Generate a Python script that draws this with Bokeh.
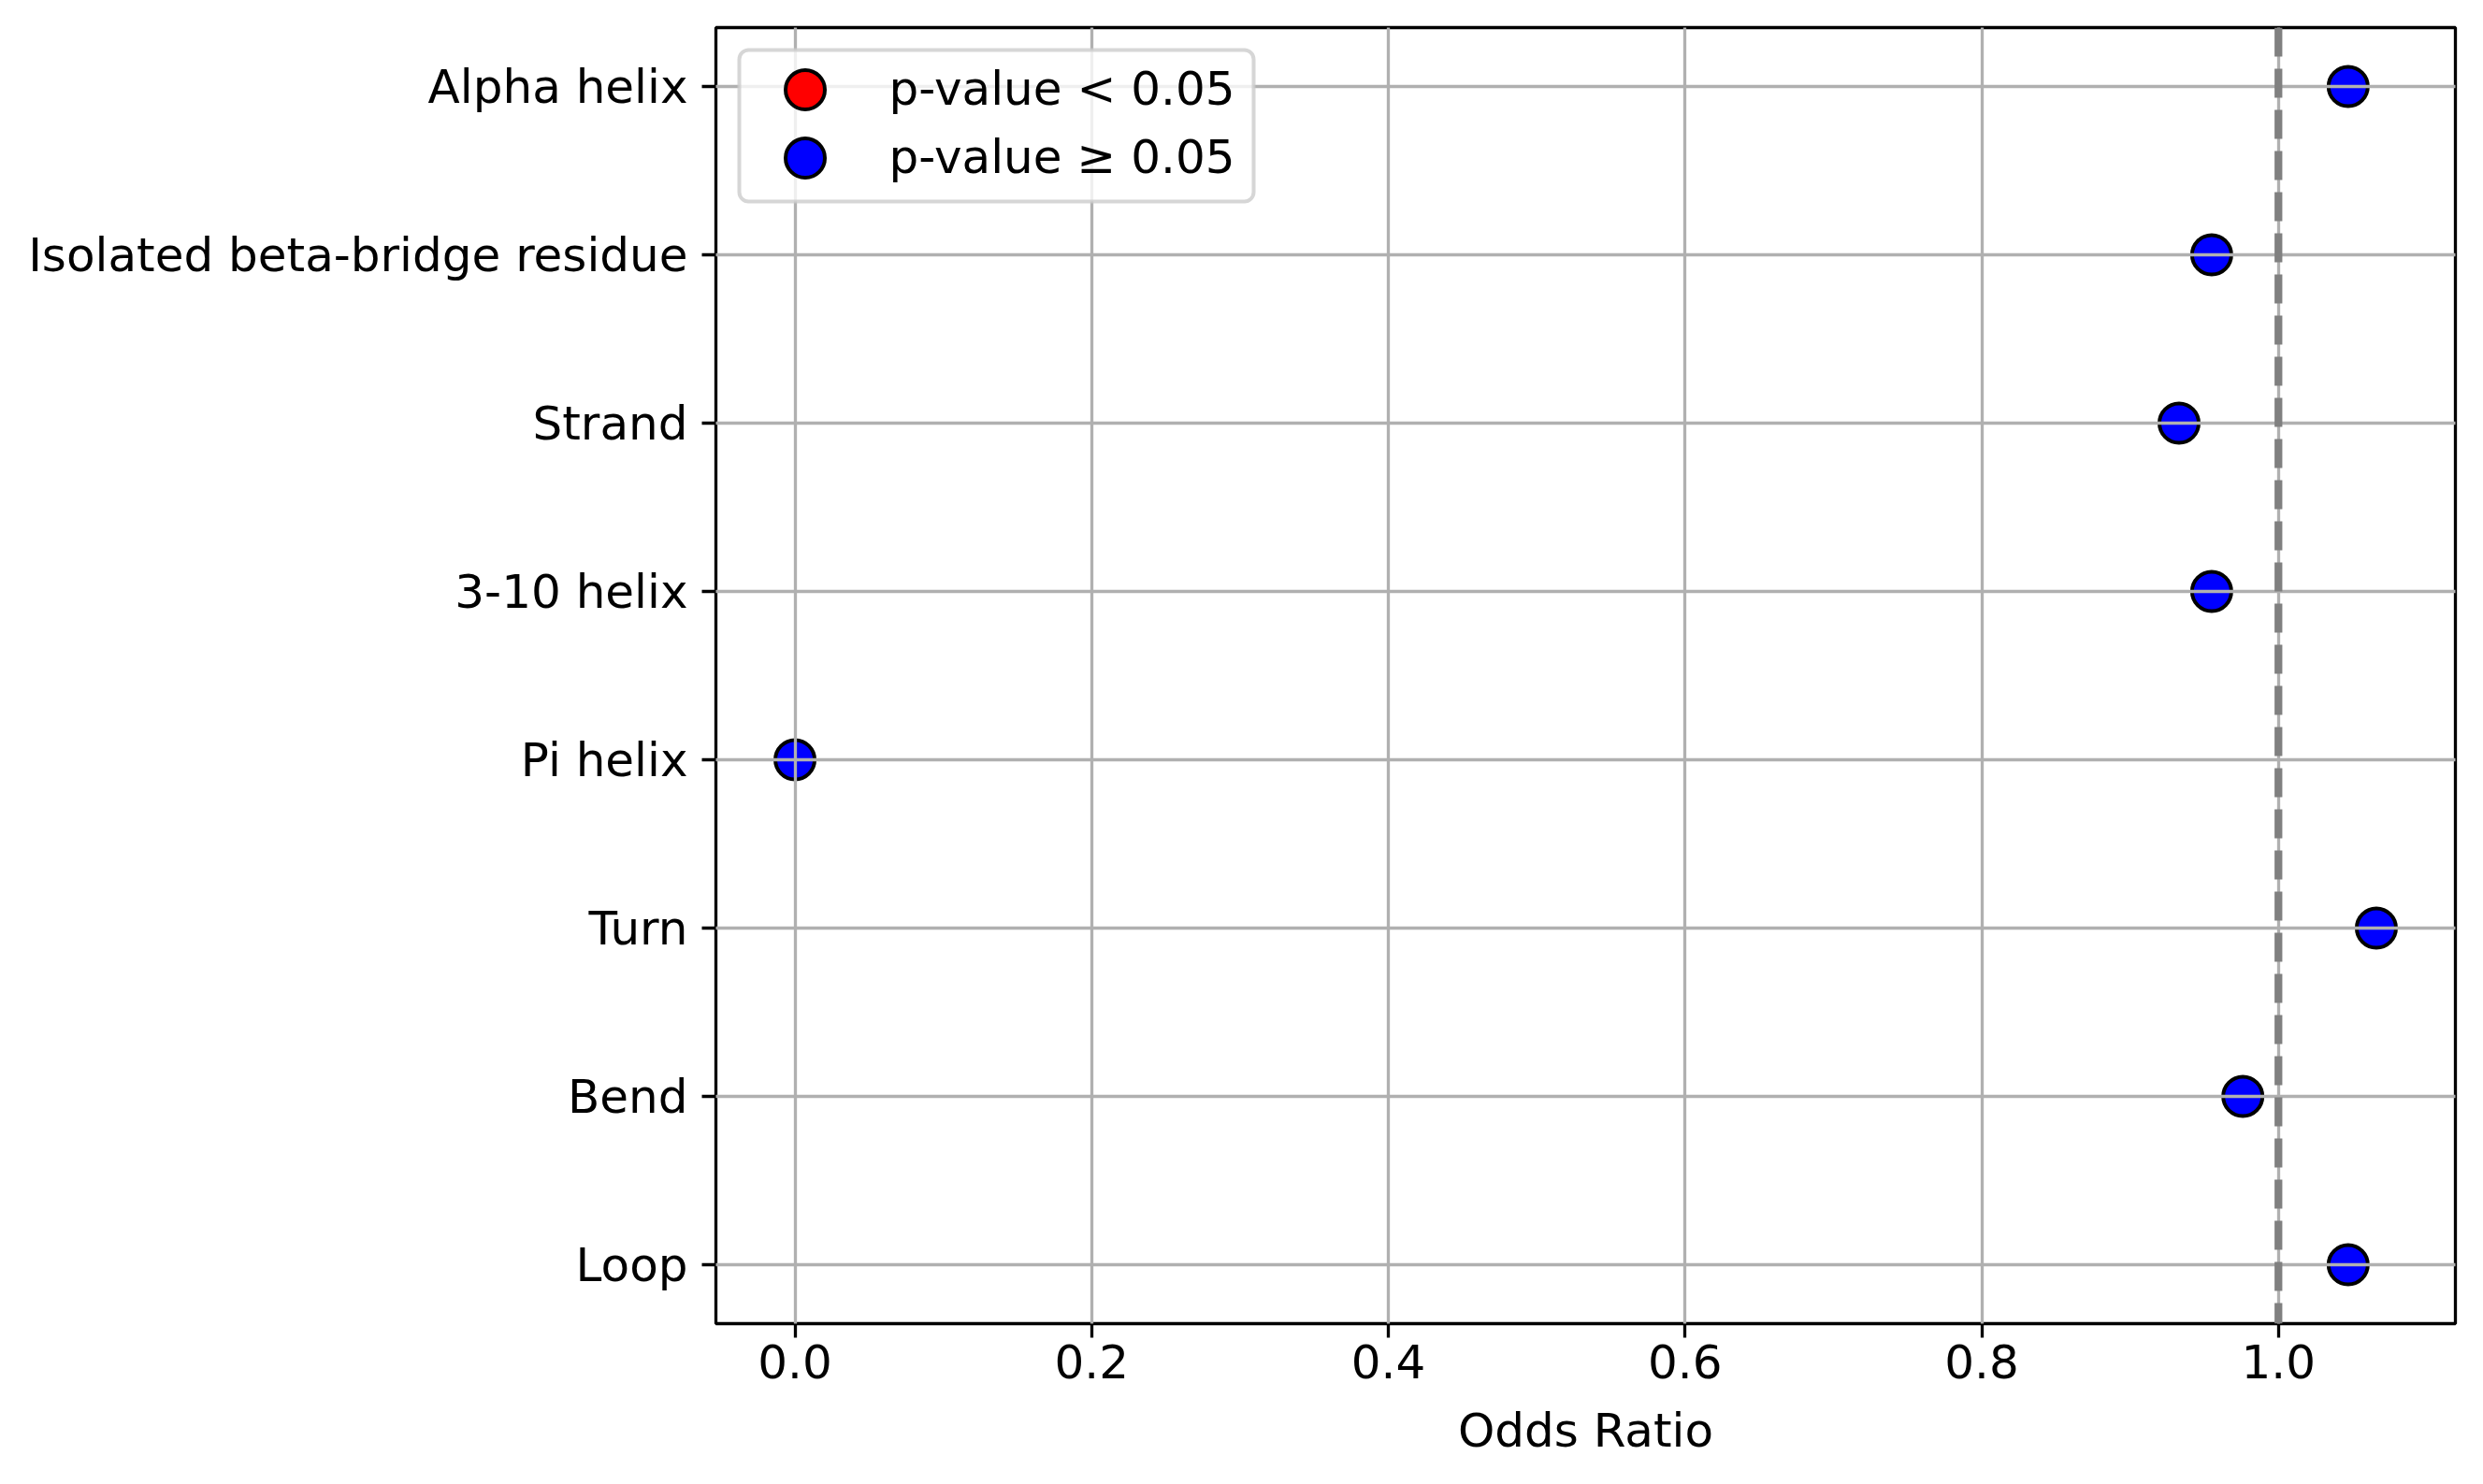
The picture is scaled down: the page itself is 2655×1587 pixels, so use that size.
from bokeh.plotting import figure
from bokeh.models import (Range1d, FixedTicker, ColumnDataSource, Span, Legend,
                          LegendItem, NumeralTickFormatter, BoxAnnotation)
from bokeh.embed import file_html
from bokeh.resources import INLINE

# ---- data ----
categories = ["Alpha helix", "Isolated beta-bridge residue", "Strand", "3-10 helix",
              "Pi helix", "Turn", "Bend", "Loop"]
odds_ratios = [1.047, 0.955, 0.933, 0.955, 0.0, 1.066, 0.976, 1.047]
significant = [False, False, False, False, False, False, False, False]
x_ticks = [0.0, 0.2, 0.4, 0.6, 0.8, 1.0]
reference_line = 1.0
legend_labels = ["p-value < 0.05", "p-value \u2265 0.05"]
legend_colors = ["red", "blue"]
x_label = "Odds Ratio"

FONT = "DejaVu Sans"
FS = "50px"

n = len(categories)
ypos = [n - 1 - i for i in range(n)]

sig = dict(x=[], y=[])
ns = dict(x=[], y=[])
for xv, yv, s in zip(odds_ratios, ypos, significant):
    d = sig if s else ns
    d["x"].append(xv)
    d["y"].append(yv)
# keep a (non-drawn) placeholder so the legend can still show the glyph
for d in (sig, ns):
    if not d["x"]:
        d["x"].append(float("nan"))
        d["y"].append(float("nan"))

xmin, xmax = min(odds_ratios), max(odds_ratios)
xpad = 0.05 * (xmax - xmin)
ypad = 0.05 * (n - 1)

# layout (px)
FL, FT, FW, FH = 765, 29, 1860, 1386
W, H = 2647, 1579

p = figure(width=W, height=H, output_backend="svg", toolbar_location=None,
           x_range=Range1d(xmin - xpad, xmax + xpad),
           y_range=Range1d(-ypad, n - 1 + ypad),
           min_border_left=FL, min_border_right=W - FL - FW, min_border_top=FT,
           min_border_bottom=H - FT - FH)
p.background_fill_color = "white"
p.border_fill_color = "white"
p.outline_line_color = "black"
p.outline_line_width = 3.3

# grid (drawn above markers like the reference)
p.xgrid.ticker = FixedTicker(ticks=x_ticks)
p.ygrid.ticker = FixedTicker(ticks=ypos)
for g in (p.xgrid, p.ygrid):
    g.grid_line_color = "#b0b0b0"
    g.grid_line_width = 3.3
    g.level = "guide"

r_sig = p.scatter("x", "y", source=ColumnDataSource(sig), size=42,
                  fill_color=legend_colors[0], line_color="black", line_width=4)
r_ns = p.scatter("x", "y", source=ColumnDataSource(ns), size=42,
                 fill_color=legend_colors[1], line_color="black", line_width=4)

span = Span(location=reference_line, dimension="height", line_color="gray",
            line_dash="31 13", line_width=8.3)
p.add_layout(span)

# axes
p.xaxis.ticker = FixedTicker(ticks=x_ticks)
p.xaxis.formatter = NumeralTickFormatter(format="0.0")
p.yaxis.ticker = FixedTicker(ticks=ypos)
p.yaxis.major_label_overrides = {y: c for y, c in zip(ypos, categories)}
p.xaxis.axis_label = x_label
for ax in (p.xaxis, p.yaxis):
    ax.axis_line_color = None
    ax.major_tick_out = 15
    ax.major_tick_in = 0
    ax.major_tick_line_width = 3.3
    ax.major_tick_line_color = "black"
    ax.minor_tick_line_color = None
    ax.major_label_text_font = FONT
    ax.major_label_text_font_size = FS
    ax.major_label_text_color = "black"
    ax.axis_label_text_font = FONT
    ax.axis_label_text_font_size = FS
    ax.axis_label_text_font_style = "normal"
    ax.axis_label_text_color = "black"
p.xaxis.major_label_standoff = 7
p.xaxis.axis_label_standoff = 24
p.yaxis.major_label_standoff = 15

# legend frame
box = BoxAnnotation(left=790, right=1340, top=53, bottom=215,
                    left_units="canvas", right_units="canvas",
                    top_units="canvas", bottom_units="canvas",
                    fill_color="white", fill_alpha=0.8,
                    line_color="#cccccc", line_alpha=0.8, line_width=4)
if "border_radius" in BoxAnnotation.properties():
    box.border_radius = 10
p.add_layout(box)

# legend entries (one per row so the row pitch matches)
GB = 105  # glyph box -> marker diameter 0.4*GB = 42
row_centers = [95 - FT, 168 - FT]  # from frame top
for lab, rend, cy in zip(legend_labels, [r_sig, r_ns], row_centers):
    lg = Legend(items=[LegendItem(label=lab, renderers=[rend])],
                location=(860 - FL - GB / 2, FH - (cy + GB / 2)),
                margin=0, padding=0, spacing=0,
                glyph_width=GB, glyph_height=GB, label_standoff=38,
                label_text_font=FONT, label_text_font_size=FS,
                label_text_color="black",
                border_line_color=None, background_fill_alpha=0)
    p.add_layout(lg)

open("out.html", "w").write(file_html(p, INLINE))
